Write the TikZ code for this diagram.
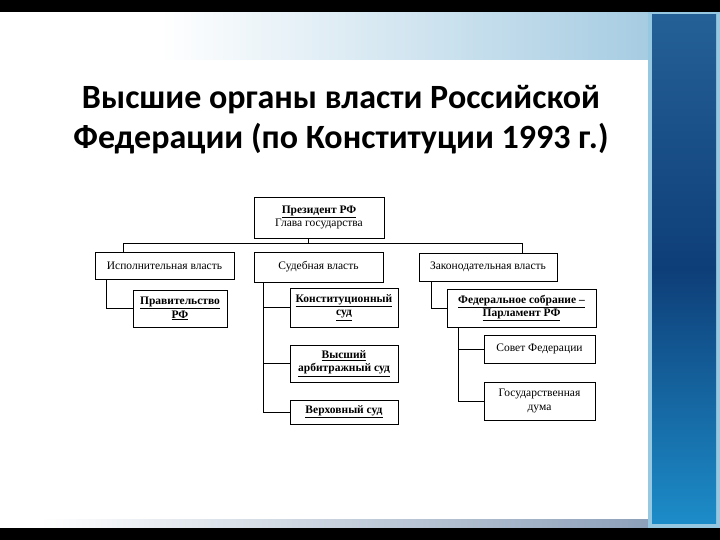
\documentclass[tikz,border=0pt]{standalone}
\usepackage{fontspec}
\setmainfont{Liberation Serif}
\newfontfamily\titlefont{Carlito}
\usepackage{tikz}
\usetikzlibrary{positioning,calc}
\definecolor{bandblue}{RGB}{166,204,226}
\definecolor{stripdark}{RGB}{14,62,120}
\definecolor{striptop}{RGB}{36,96,150}
\definecolor{stripbot}{RGB}{28,140,200}
\definecolor{stripedge}{RGB}{150,200,225}
\definecolor{footgrey}{RGB}{140,160,185}
\tikzset{
  org/.style={draw=black,line width=0.8pt,fill=white,align=center,inner sep=1pt,
              font=\fontsize{11.5}{13.5}\selectfont},
  link/.style={draw=black,line width=0.8pt},
}
\begin{document}
\begin{tikzpicture}[x=1pt,y=-1pt]
  \useasboundingbox (0,0) rectangle (720,540);
  % рамка слайда
  \fill[white] (0,0) rectangle (720,540);
  \shade[left color=white,right color=bandblue] (160,12) rectangle (650,60);
  \shade[left color=white,right color=footgrey] (40,519) rectangle (650,528);
  \fill[stripedge] (648,12) rectangle (720,528);
  \shade[top color=striptop,bottom color=stripbot,middle color=stripdark] (652,15) rectangle (716,523);
  \fill[black] (0,0) rectangle (720,12);
  \fill[black] (0,528) rectangle (720,540);

  \node[font=\titlefont\bfseries\fontsize{34}{40}\selectfont,align=center] (title) at (341,120)
    {Высшие органы власти Российской\\Федерации (по Конституции 1993 г.)};

  \node[org,minimum width=130pt,minimum height=41pt] (pres) at (319,217.5)
    {\textbf{\underline{Президент РФ}}\\Глава государства};
  \node[org,minimum width=139pt,minimum height=27pt] (exec) at (164.5,265.5) {Исполнительная власть};
  \node[org,minimum width=129pt,minimum height=30pt] (jud)  at (318.5,267) {Судебная власть};
  \node[org,minimum width=138pt,minimum height=28pt] (leg)  at (488,267) {Законодательная власть};

  \node[org,minimum width=94pt,minimum height=37pt]  (gov)   at (180,308.5)
    {\textbf{\underline{Правительство}}\\\textbf{\underline{РФ}}};
  \node[org,minimum width=108pt,minimum height=39pt] (konst) at (344,307.5)
    {\textbf{\underline{Конституционный}}\\\textbf{\underline{суд}}};
  \node[org,minimum width=108pt,minimum height=37pt] (arb)   at (344,363.5)
    {\textbf{\underline{Высший}}\\\textbf{\underline{арбитражный суд}}};
  \node[org,minimum width=108pt,minimum height=24pt] (verkh) at (344,412)
    {\textbf{\underline{Верховный суд}}};
  \node[org,minimum width=149pt,minimum height=38pt] (fs)    at (521.5,308)
    {\textbf{\underline{Федеральное собрание --}}\\\textbf{\underline{Парламент РФ}}};
  \node[org,minimum width=111pt,minimum height=28pt] (sf)    at (539.5,349) {Совет Федерации};
  \node[org,minimum width=111pt,minimum height=38pt] (gd)    at (539.5,401) {Государственная\\дума};

  \coordinate (busl) at (123,243);
  \coordinate (busm) at (308,243);
  \coordinate (busr) at (522,243);
  \draw[link] (exec.north -| busl) -- (busl) -- (busr) -- (leg.north -| busr);
  \draw[link] (busm) -- (busm |- pres.south);

  \draw[link] ([xshift=-58.5pt]exec.south) |- (gov.west);
  \draw[link] ([xshift=-55.5pt]jud.south) |- (konst.west);
  \draw[link] ([xshift=-55.5pt]jud.south) |- (arb.west);
  \draw[link] ([xshift=-55.5pt]jud.south) |- (verkh.west);
  \draw[link] ([xshift=-57pt]leg.south) |- (fs.west);
  \draw[link] ([xshift=-63.5pt]fs.south) |- (sf.west);
  \draw[link] ([xshift=-63.5pt]fs.south) |- (gd.west);
\end{tikzpicture}
\end{document}
